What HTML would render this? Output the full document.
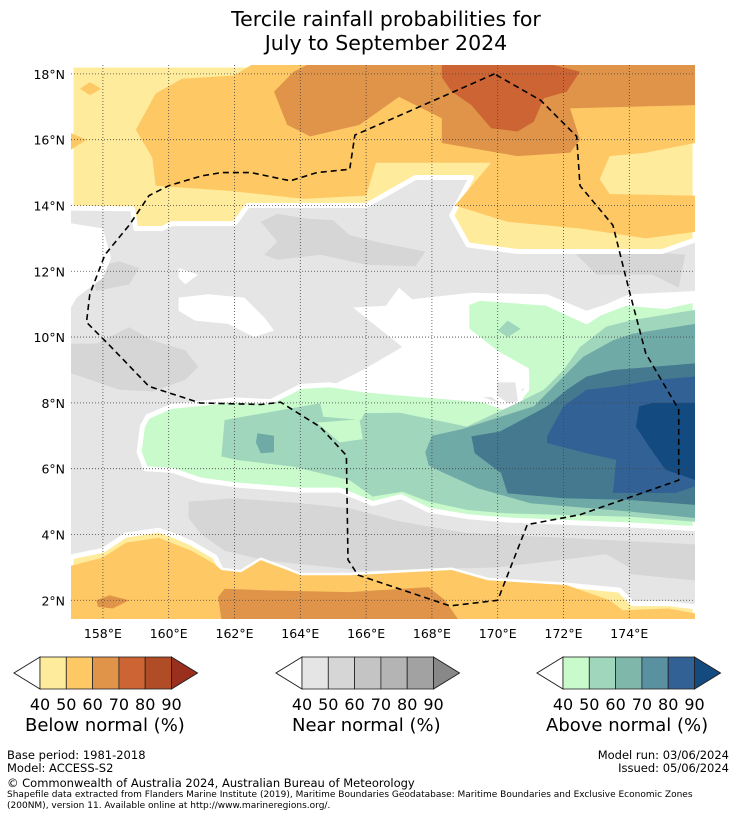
<!DOCTYPE html>
<html><head><meta charset="utf-8"><style>
body{margin:0;background:#fff;font-family:"DejaVu Sans",sans-serif;}
#wrap{position:relative;width:736px;height:816px;overflow:hidden;}
.t{position:absolute;white-space:nowrap;color:#000;font-family:"DejaVu Sans",sans-serif;}
</style></head><body>
<div id="wrap">
<div class="t" style="left:0;width:772px;text-align:center;top:7px;font-size:20.5px;line-height:24px;">Tercile rainfall probabilities for<br>July to September 2024</div>
<svg id="map" width="736" height="816" style="position:absolute;left:0;top:0"></svg>
<div class="t" style="left:25px;top:715px;font-size:18px;">Below normal (%)</div>
<div class="t" style="left:292px;top:715px;font-size:18px;">Near normal (%)</div>
<div class="t" style="left:546px;top:715px;font-size:18px;">Above normal (%)</div>
<div class="t" style="left:7px;top:748px;font-size:11.5px;">Base period: 1981-2018</div>
<div class="t" style="left:7px;top:761px;font-size:11.5px;">Model: ACCESS-S2</div>
<div class="t" style="right:7px;top:748px;font-size:11.5px;text-align:right;">Model run: 03/06/2024</div>
<div class="t" style="right:7px;top:761px;font-size:11.5px;text-align:right;">Issued: 05/06/2024</div>
<div class="t" style="left:7px;top:776px;font-size:11.5px;">© Commonwealth of Australia 2024, Australian Bureau of Meteorology</div>
<div class="t" style="left:7px;top:790px;font-size:9px;line-height:10.5px;">Shapefile data extracted from Flanders Marine Institute (2019), Maritime Boundaries Geodatabase: Maritime Boundaries and Exclusive Economic Zones<br>(200NM), version 11. Available online at http://www.marineregions.org/.</div>
</div>
<script>
const lonTicks=[158,160,162,164,166,168,170,172,174];
const latTicks=[18,16,14,12,10,8,6,4,2];
const cbLabels=[40,50,60,70,80,90];
const belowColors=["#ffeb9c","#fec964","#e09449","#cc6533","#b04c26","#9a2f1e"];
const nearColors=["#e5e5e5","#d6d6d6","#c4c4c4","#b4b4b4","#a2a2a2","#888888"];
const aboveColors=["#c8facc","#a0d6bc","#7fb8ab","#5a91a0","#326196","#134b81"];
const topYellow=[[157.03,18.27],[176,18.27],[176,12.95],[175,12.6],[172,12.6],[170.6,12.6],[169.1,12.8],[168.6,13.7],[169.2,14.85],[167.5,14.85],[166.0,14.0],[164.3,14.0],[162.4,14.0],[162.0,13.45],[160.1,13.45],[159.8,13.3],[159.0,13.3],[158.9,13.9],[157.03,13.92]];
const topOrange=[[161.2,18.27],[176,18.27],[176,15.9],[174.5,15.6],[173.4,15.5],[173.1,14.8],[173.4,14.35],[176,14.3],[176,13.2],[174.5,13.0],[172.5,13.3],[170.3,13.5],[168.7,14.0],[169.8,15.3],[166.3,15.3],[166.0,14.3],[164.1,14.2],[161.8,14.45],[159.6,14.6],[159.5,15.45],[159.0,16.3],[159.6,17.4],[160.4,17.85],[162.0,17.95],[162.5,18.27]];
const topOrangeSpots=[[[157.3,17.55],[157.6,17.75],[157.95,17.55],[157.6,17.35]],[[157.03,16.2],[157.5,16.0],[157.03,15.7]],[[173.7,13.75],[174.6,13.7],[174.6,13.5],[173.7,13.5]]];
const top60=[[164.2,18.27],[176,18.27],[176,17.05],[172.2,16.95],[172.5,16.0],[172.2,15.6],[170.6,15.5],[168.3,15.9],[168.3,16.65],[167.0,17.3],[165.8,16.45],[164.3,16.1],[163.6,16.45],[163.2,17.46],[163.8,18.07]];
const top70=[[168.3,18.27],[171.7,18.27],[172.5,18.07],[172.1,17.46],[171.4,17.26],[171.1,16.55],[170.6,16.25],[169.8,16.35],[169.2,17.05],[168.6,17.46],[168.3,17.9]];
const grayDark=[
 [[162.8,13.5],[163.3,13.75],[164.2,13.6],[165.0,13.55],[165.5,13.1],[166.5,12.85],[167.8,12.6],[167.5,12.15],[166.0,12.2],[164.6,12.5],[163.3,12.35],[162.9,12.5],[163.3,12.9]],
 [[157.6,12.1],[158.5,12.3],[159.1,12.1],[158.8,11.6],[157.8,11.4]],
 [[157.03,9.8],[157.8,9.8],[158.8,10.3],[159.5,9.9],[160.5,9.6],[160.9,9.1],[160.5,8.7],[159.5,8.35],[158.5,8.4],[157.03,8.9]],
 [[172.2,12.7],[174,12.65],[175.7,12.5],[175.5,11.5],[174.7,11.9],[173,11.9]],
 [[160.6,5.0],[162,5.1],[164,4.95],[165.5,4.8],[167,4.4],[169,4.05],[172,3.9],[176,3.7],[176,2.6],[174,2.8],[173,3.1],[172.1,3.25],[170,3.0],[166,2.9],[163,3.2],[161.7,3.5],[161,4.0],[160.6,4.5]]];
const grayLightSpots=[[[172.1,3.25],[173.3,3.4],[174,3.0],[174,2.3],[172.1,2.4]]];
const whiteAreas=[
 [[157.03,13.46],[158.0,13.3],[158.25,12.4],[158.0,11.8],[157.2,11.2],[157.03,10.9]],
 [[160.3,11.2],[161.2,11.3],[162.3,11.2],[162.9,10.6],[163.2,10.2],[162.6,10.0],[161.8,10.4],[160.8,10.5],[160.3,10.8]],
 [[160.3,12.1],[160.9,11.9],[160.5,11.6],[160.3,11.8]],
 [[165.6,10.9],[166.6,10.95],[167.0,11.5],[167.4,11.15],[169.2,11.35],[171.5,11.3],[172.7,10.8],[173.3,11.0],[174,11.3],[176,11.4],[176,10.5],[172,9.5],[170.5,8.2],[167,8.1],[164.3,8.2],[165.9,9.0],[167.1,9.7]]];
const green40=[[159.2,7.28],[159.36,7.58],[160.07,7.89],[162.0,8.09],[163.1,8.04],[164.02,8.5],[164.9,8.55],[165.9,8.4],[167.03,8.3],[169.56,8.09],[170.37,7.79],[170.88,8.4],[170.88,9.0],[169.97,9.51],[169.06,10.22],[169.06,11.03],[169.46,11.18],[171.49,11.03],[172.7,10.47],[173.1,10.73],[173.9,11.03],[175.1,10.93],[176,11.13],[176,4.18],[174.2,4.28],[170.3,4.44],[169.1,4.54],[167.9,4.74],[167.06,5.15],[166.2,4.94],[165.2,5.35],[164.0,5.35],[162.1,5.5],[161.0,5.65],[160.1,5.95],[159.3,6.0],[159.1,6.5]];
const grayIsland=[[169.9,8.7],[170.6,8.7],[170.7,8.0],[170.3,7.9],[169.9,8.2]];
const green50=[[161.7,7.48],[164.6,7.99],[164.7,7.58],[165.85,7.48],[165.95,7.69],[167.03,7.7],[169.06,7.28],[170.58,7.99],[171.4,8.4],[172.0,9.0],[172.5,9.7],[173.3,10.32],[174.1,10.52],[176,10.83],[176,4.39],[174,4.54],[170.3,4.64],[169.1,4.74],[167.9,5.0],[167.1,5.3],[166.2,5.15],[165.5,5.65],[163.8,6.06],[162.1,6.26],[161.6,6.37]];
const green40Island=[[164.5,7.4],[165.8,7.5],[165.9,6.9],[165.2,6.8]];
const green50Spot=[[170.0,10.2],[170.3,10.5],[170.7,10.25],[170.3,10.0]];
const green60=[[167.8,6.5],[168.0,7.0],[168.9,7.2],[171.1,7.9],[171.9,8.7],[172.6,9.4],[173.5,9.9],[174.1,10.1],[176,10.4],[176,4.5],[174,4.7],[171,4.95],[169.4,5.4],[168.3,5.9],[167.9,6.1]];
const green60Spot=[[162.7,7.08],[163.2,7.0],[163.2,6.5],[162.8,6.47],[162.65,6.8]];
const green70=[[169.2,6.98],[170.07,7.13],[171.49,7.89],[172.1,8.4],[172.7,8.8],[173.5,9.0],[176,9.2],[176,4.9],[174,5.05],[172,5.1],[170.3,5.25],[170.1,5.87],[169.3,6.47]];
const green80=[[171.5,6.98],[172.0,7.9],[172.7,8.4],[173.6,8.5],[174.8,8.7],[176,8.8],[176,5.46],[175.4,5.26],[173.5,5.26],[173.6,6.27],[172.7,6.47],[171.5,6.78]];
const green90=[[174.2,7.28],[174.3,7.89],[174.7,8.0],[176,8.0],[176,5.66],[175.1,5.97],[174.6,6.67]];
const botYellow=[[157.03,3.32],[158.0,3.52],[158.7,3.98],[159.7,4.13],[160.2,3.95],[160.7,3.73],[161.4,3.32],[161.6,2.92],[162.2,2.85],[162.8,3.22],[163.6,2.92],[164.0,2.76],[165.5,2.76],[168.6,2.92],[169.7,2.61],[172.1,2.46],[173.7,2.31],[174.1,1.9],[175.2,1.9],[176,1.8],[176,1.42],[157.03,1.42]];
const botOrange=[[157.03,3.05],[158.0,3.3],[158.7,3.75],[159.7,3.9],[160.7,3.5],[161.4,3.1],[161.6,2.92],[162.2,2.85],[162.8,3.22],[163.6,2.92],[164.0,2.76],[165.5,2.76],[168.6,2.92],[169.7,2.61],[172.1,2.46],[173.4,2.0],[173.8,1.7],[175.2,1.75],[176,1.6],[176,1.42],[157.03,1.42]];
const bot60=[[161.6,1.42],[161.5,2.1],[161.7,2.35],[163,2.3],[165.5,2.25],[167.9,2.4],[168.4,2.0],[168.8,1.42]];
const bot60Spot=[[157.8,2.0],[158.2,2.15],[158.8,2.0],[158.3,1.75],[157.85,1.8]];
const eez=[[169.9,18.0],[165.66,16.14],[165.5,15.1],[164.5,15.0],[163.7,14.75],[162.5,15.0],[161.6,15.0],[161.0,14.9],[160.0,14.6],[159.4,14.3],[158.8,13.4],[158.06,12.5],[157.6,11.3],[157.5,10.45],[158.2,9.75],[159.4,8.5],[160.95,8.0],[162.8,7.95],[163.4,8.02],[164.6,7.27],[165.4,6.4],[165.45,3.23],[165.75,2.77],[168.55,1.83],[170.0,2.0],[170.9,4.3],[172.5,4.6],[175.5,5.65],[175.5,7.8],[174.5,9.5],[174.0,11.4],[173.5,13.4],[172.5,14.6],[172.4,16.1],[171.3,17.2],[169.9,18.0]];

const NS="http://www.w3.org/2000/svg";
const svg=document.getElementById('map');
const X=lon=>71+(lon-157.03)*32.9;
const Y=lat=>65+(18.27-lat)*32.9;
const FONT='DejaVu Sans, sans-serif';
function el(tag,attrs,parent){const e=document.createElementNS(NS,tag);for(const k in attrs)e.setAttribute(k,attrs[k]);(parent||svg).appendChild(e);return e;}
const defs=el('defs',{});
const cp=el('clipPath',{id:'clip'},defs);
el('rect',{x:71,y:65,width:624,height:554},cp);
const g=el('g',{'clip-path':'url(#clip)'});


function poly(pts,fill,name,stroke){
  const p=el('polygon',{points:pts.map(q=>X(q[0]).toFixed(1)+','+Y(q[1]).toFixed(1)).join(' '),fill:fill,stroke:stroke||'none','stroke-width':stroke?5:0,'stroke-linejoin':'round'},g);
  
  
  return p;
}
const bg=el('rect',{x:71,y:65,width:624,height:554,fill:nearColors[0]},g);


grayDark.forEach((p,i)=>poly(p,nearColors[1],'near-normal-50-'+i));
grayLightSpots.forEach((p,i)=>poly(p,nearColors[0],'near-normal-40-spot-'+i));
whiteAreas.forEach((p,i)=>poly(p,'#ffffff','below-40-area-'+i));
poly(topYellow,belowColors[0],'below-normal-40-north','#ffffff');
poly(topOrange,belowColors[1],'below-normal-50-north');
topOrangeSpots.forEach((p,i)=>poly(p,belowColors[1],'below-normal-50-spot-'+i));
poly(top60,belowColors[2],'below-normal-60-north');
poly(top70,belowColors[3],'below-normal-70-north');
poly(botYellow,belowColors[0],'below-normal-40-south','#ffffff');
poly(botOrange,belowColors[1],'below-normal-50-south');
poly(bot60,belowColors[2],'below-normal-60-south');
poly(bot60Spot,belowColors[2],'below-normal-60-spot');
poly(green40,aboveColors[0],'above-normal-40','#ffffff');
poly(grayIsland,nearColors[0],'near-normal-island','#ffffff');
poly(green50,aboveColors[1],'above-normal-50');
poly(green40Island,aboveColors[0],'above-normal-40-island');
poly(green50Spot,aboveColors[1],'above-normal-50-spot');
poly(green60Spot,'#70aaa6','above-normal-60-spot');
poly(green60,'#70aaa6','above-normal-60');
poly(green70,'#44798f','above-normal-70');
poly(green80,aboveColors[4],'above-normal-80');
poly(green90,aboveColors[5],'above-normal-90');
lonTicks.forEach(l=>{const ln=el('line',{x1:X(l),x2:X(l),y1:65,y2:619,stroke:'#444','stroke-width':0.8,'stroke-dasharray':'1,2'},g);
 });
latTicks.forEach(l=>{const ln=el('line',{x1:71,x2:695,y1:Y(l),y2:Y(l),stroke:'#444','stroke-width':0.8,'stroke-dasharray':'1,2'},g);
 });
const ez=el('polyline',{points:eez.map(q=>X(q[0]).toFixed(1)+','+Y(q[1]).toFixed(1)).join(' '),fill:'none',stroke:'#000','stroke-width':1.6,'stroke-dasharray':'6,4'},g);


lonTicks.forEach(l=>{const t=el('text',{x:X(l),y:638,'text-anchor':'middle','font-size':12.5,'font-family':FONT});t.textContent=l+'°E';
 });
latTicks.forEach(l=>{const t=el('text',{x:65,y:Y(l)+5,'text-anchor':'end','font-size':12.5,'font-family':FONT});t.textContent=l+'°N';
 });
function colorbar(x0,colors,name){
  const w=26.3,y0=657,h=32,cy=y0+h/2;
  const cb=el('g',{});
  
  
  el('polygon',{points:`${x0},${y0} ${x0-26},${cy} ${x0},${y0+h}`,fill:'#fff',stroke:'#222','stroke-width':1},cb);
  for(let i=0;i<5;i++){el('rect',{x:x0+i*w,y:y0,width:w,height:h,fill:colors[i],stroke:'#222','stroke-width':0.8},cb);}
  const xe=x0+5*w;
  el('polygon',{points:`${xe},${y0} ${xe+26},${cy} ${xe},${y0+h}`,fill:colors[5],stroke:'#222','stroke-width':1},cb);
  cbLabels.forEach((v,i)=>{const t=el('text',{x:x0+i*w,y:710,'text-anchor':'middle','font-size':16,'font-family':FONT},cb);t.textContent=v;});
}
colorbar(40,belowColors,'below-normal-colorbar');
colorbar(302,nearColors,'near-normal-colorbar');
colorbar(563,aboveColors,'above-normal-colorbar');
</script>
</body></html>
